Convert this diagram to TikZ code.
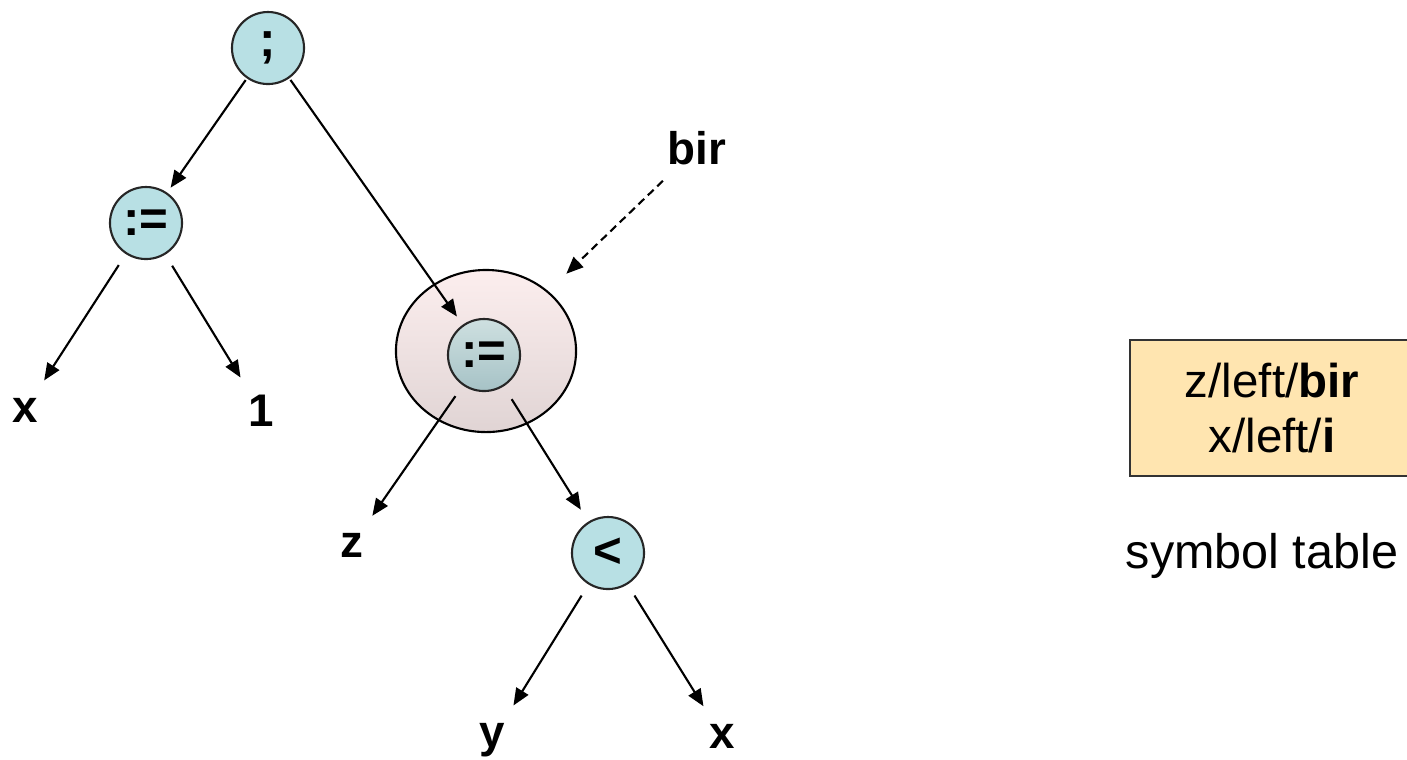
\documentclass[tikz,border=0pt]{standalone}
\usepackage{fontspec}
\setmainfont{Liberation Sans}
\usetikzlibrary{shapes.geometric,arrows.meta}
\definecolor{opfill}{RGB}{184,224,228}
\definecolor{envtop}{RGB}{252,238,238}
\definecolor{envbot}{RGB}{224,212,212}
\definecolor{innertop}{RGB}{206,224,224}
\definecolor{innerbot}{RGB}{166,194,198}
\definecolor{tablefill}{RGB}{255,229,176}

\begin{document}
\begin{tikzpicture}[x=0.01cm,y=-0.01cm,
	  every node/.style={align=center,text=black},
	  op/.style={circle,draw=black!85,line width=0.6pt,fill=opfill,minimum size=0.72cm,inner sep=0pt,font=\fontsize{14}{16}\selectfont\bfseries},
	  innerop/.style={op,top color=innertop,bottom color=innerbot},
	  leaf/.style={inner sep=0pt,font=\fontsize{13}{15}\selectfont\bfseries},
	  envblob/.style={ellipse,draw=black,line width=0.6pt,top color=envtop,bottom color=envbot,minimum width=1.8cm,minimum height=1.62cm},
	  symtab/.style={draw=black!80,line width=0.6pt,fill=tablefill,minimum width=3.0cm,minimum height=1.36cm,font=\fontsize{13.5}{15.6}\selectfont},
	  link/.style={-{Triangle[length=0.17cm,width=0.14cm]},line width=0.6pt,shorten <=0.13cm,shorten >=0.1cm},
	  leaflink/.style={link,shorten >=0.2cm},
	  envlink/.style={link,dashed,dash pattern=on 0.08cm off 0.05cm,shorten <=0.22cm,shorten >=0.25cm}]

	  \useasboundingbox (0,0) rectangle (1407,759);

	  % environment of the second assignment
	  \node[envblob] (env) at (486,351) {};

	  % tree nodes
	  \node[op] (semi) at (268,48) {;};
	  \node[op] (assignx) at (146,223) {:=};
	  \node[innerop] (assignz) at (484,355) {:=};
	  \node[op] (less) at (608,553) {<};

	  % leaves
	  \node[leaf] (x1) at (25,410) {x};
	  \node[leaf] (one) at (261,411) {1};
	  \node[leaf] (z) at (352,545) {z};
	  \node[leaf] (y) at (492,740) {y};
	  \node[leaf] (x2) at (722,736) {x};
	  \node[leaf] (bir) at (697,148) {bir};

	  % symbol table
	  \node[symtab] (table) at (1280,408) {\hspace*{-0.16cm}z/left/\textbf{bir}\\\hspace*{-0.16cm}x/left/\textbf{i}};
	  \node[font=\fontsize{13.8}{16}\selectfont] (tablelabel) at (1262,556) {symbol table};

	  % edges
	  \draw[link,shorten <=0.02cm,shorten >=0.06cm] (semi) -- (assignx);
	  \draw[link,shorten <=0.02cm] (semi) -- (assignz);
	  \draw[leaflink] (assignx) -- (x1);
	  \draw[leaflink] (assignx) -- (one);
	  \draw[leaflink] (assignz) -- (z);
	  \draw[link,shorten <=0.15cm,shorten >=0.14cm] (assignz) -- (less);
	  \draw[leaflink] (less) -- (y);
	  \draw[leaflink] (less) -- (x2);
	  \draw[envlink] (bir) -- (env);
\end{tikzpicture}
\end{document}
